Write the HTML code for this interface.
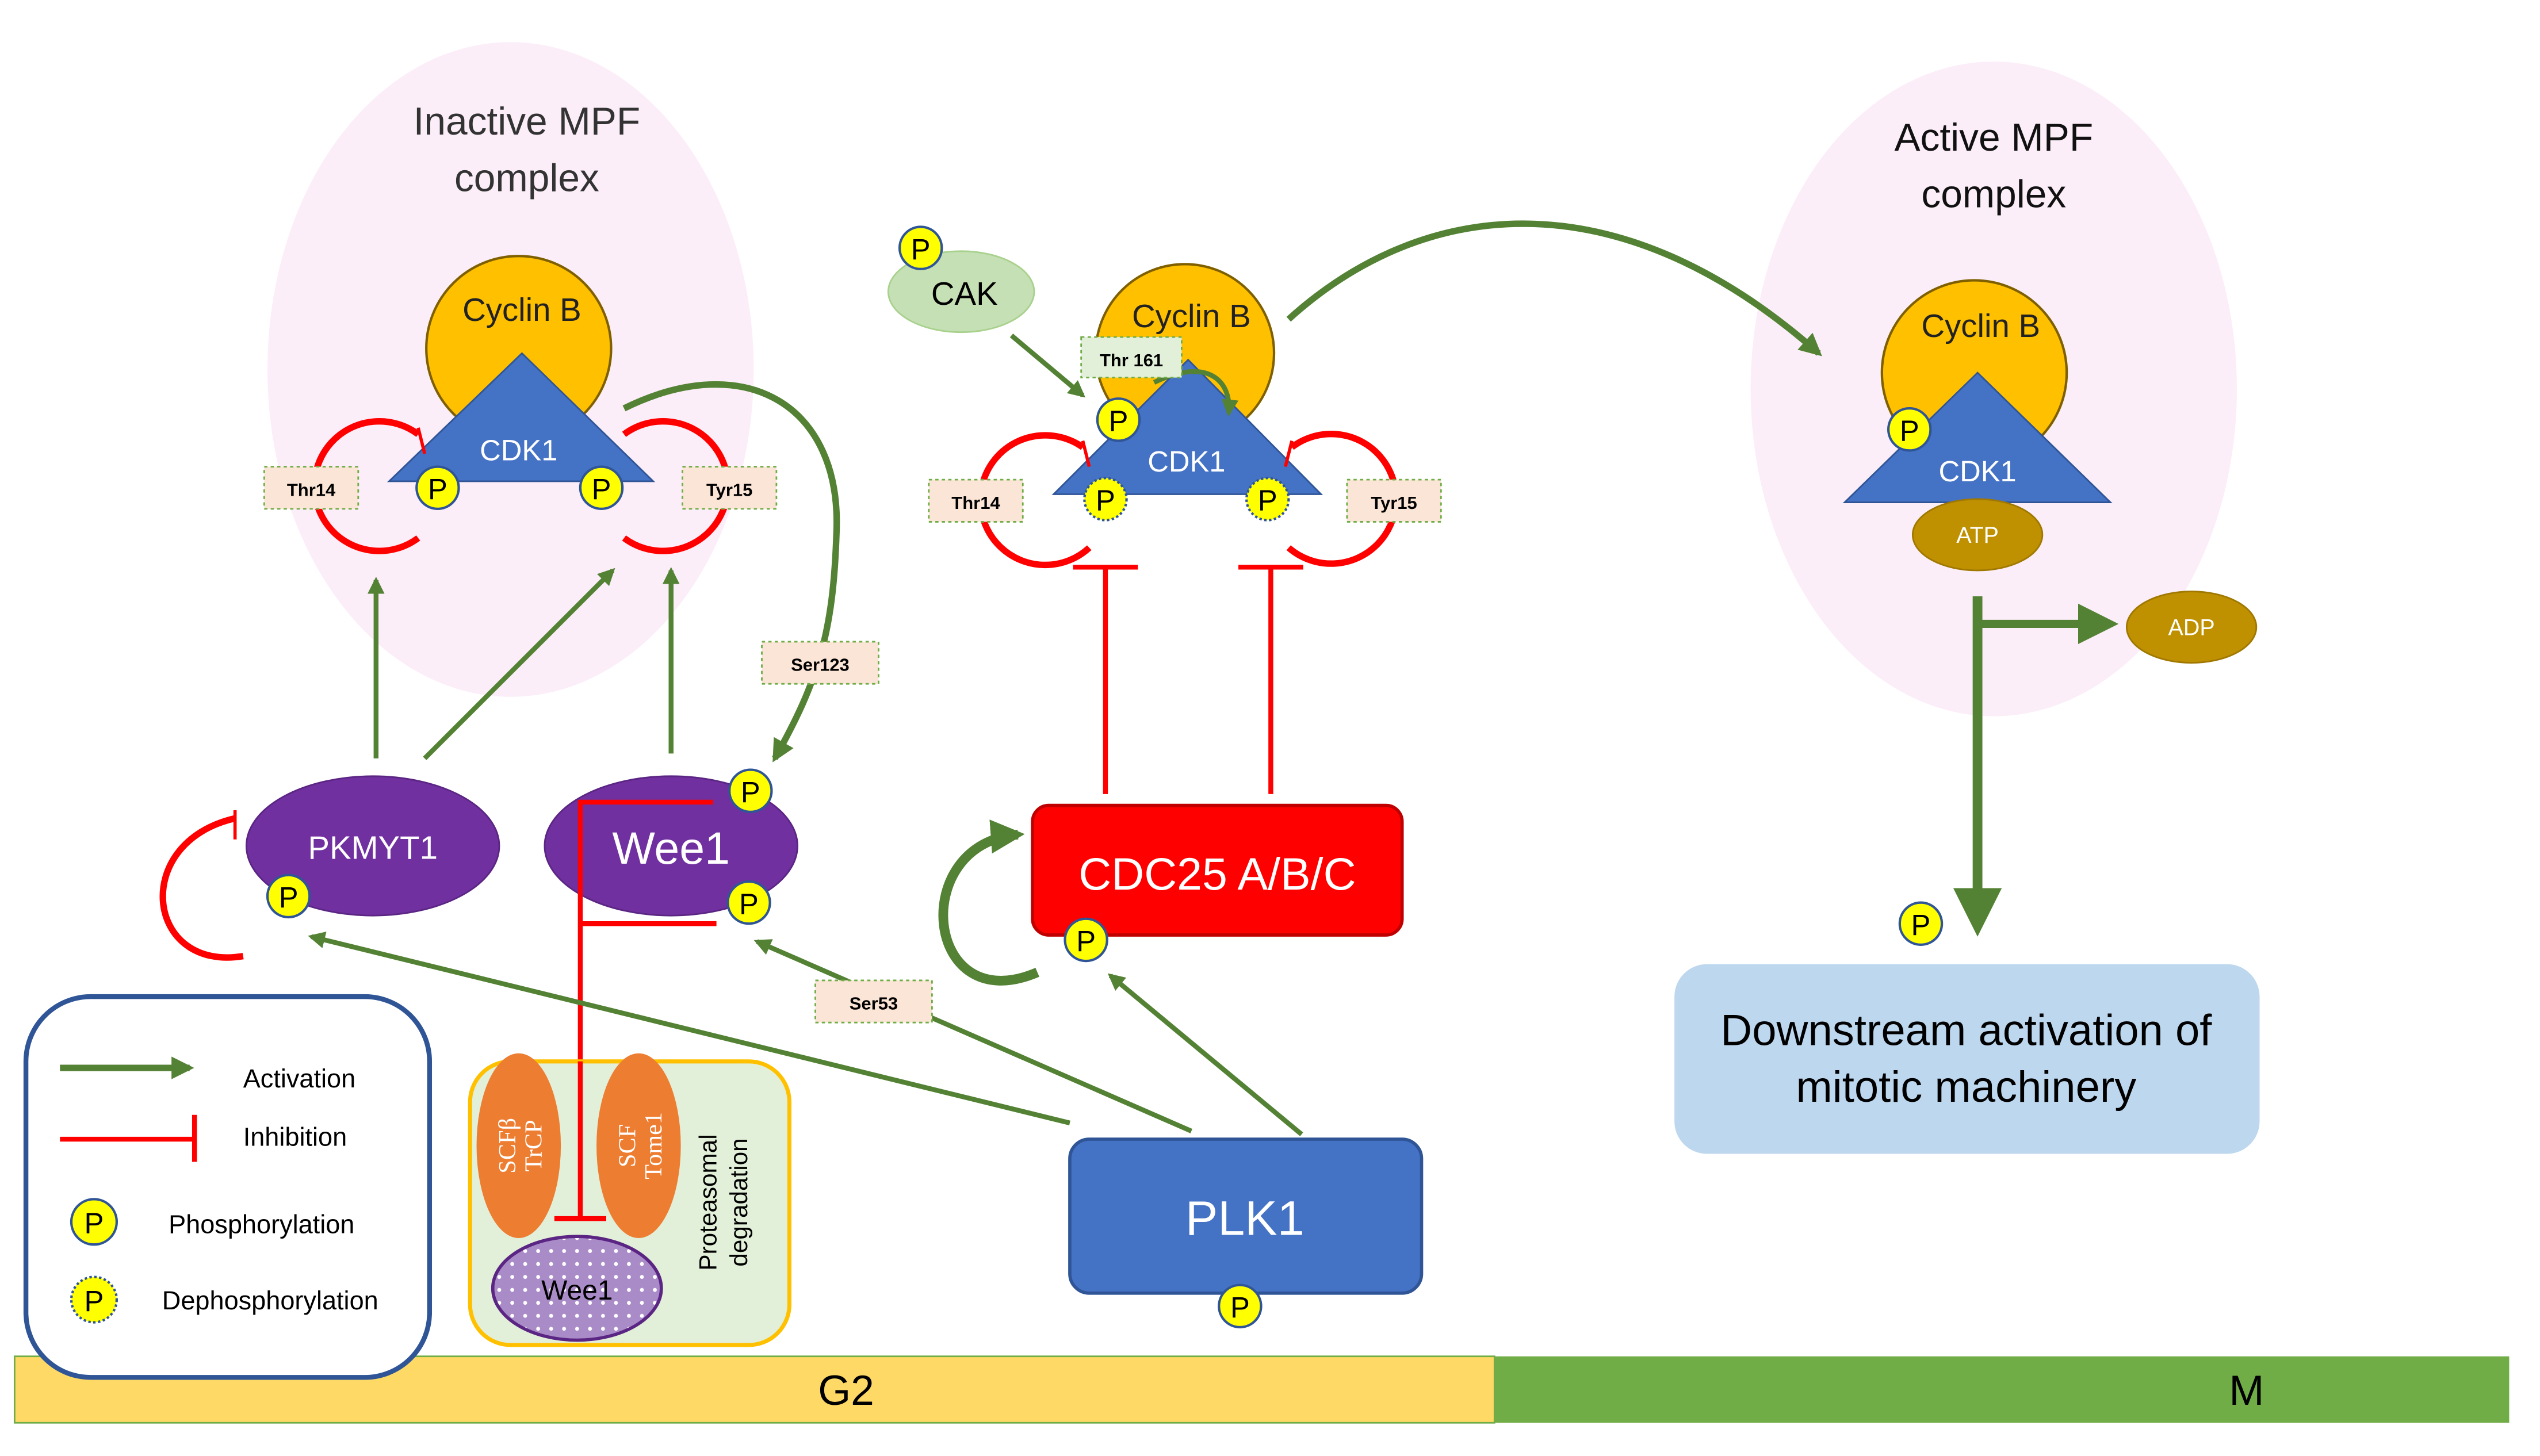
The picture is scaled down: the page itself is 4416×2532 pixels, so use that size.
<!DOCTYPE html>
<html><head><meta charset="utf-8"><style>html,body{margin:0;padding:0;background:#fff}svg{display:block}</style></head><body>
<svg width="4416" height="2532" viewBox="0 0 1567 898.5" preserveAspectRatio="none" xmlns="http://www.w3.org/2000/svg" font-family="Liberation Sans, sans-serif">
<defs>
<marker id="ga" viewBox="0 0 10 10" refX="8" refY="5" markerWidth="5" markerHeight="5" orient="auto"><path d="M0,0L10,5L0,10z" fill="#548235"/></marker>
<marker id="gb" viewBox="0 0 10 10" refX="8" refY="5" markerWidth="3.5" markerHeight="3.5" orient="auto"><path d="M0,0L10,5L0,10z" fill="#548235"/></marker>
<pattern id="dots" width="8" height="8" patternUnits="userSpaceOnUse"><rect width="8" height="8" fill="#a98bc7"/><circle cx="4" cy="4" r="1.2" fill="#fff"/></pattern>
</defs>
<ellipse cx="315" cy="228" rx="150" ry="202" fill="#fbeef8"/>
<ellipse cx="1230" cy="240" rx="150" ry="202" fill="#fbeef8"/>
<text x="325" y="83" font-size="24" text-anchor="middle" fill="#333">Inactive MPF</text>
<text x="325" y="118" font-size="24" text-anchor="middle" fill="#333">complex</text>
<text x="1230" y="93" font-size="24" text-anchor="middle" fill="#111">Active MPF</text>
<text x="1230" y="128" font-size="24" text-anchor="middle" fill="#111">complex</text>

<circle cx="320" cy="215" r="57" fill="#ffc000" stroke="#7f6000" stroke-width="1.5"/>
<text x="322" y="198" font-size="20" text-anchor="middle" fill="#222">Cyclin B</text>
<polygon points="240,297 322,218 403,297" fill="#4472c4" stroke="#2f5597"/>
<text x="320" y="284" font-size="18" text-anchor="middle" fill="#fff">CDK1</text>
<path d="M258,268 A40,40 0 1 0 258,332" fill="none" stroke="#f00" stroke-width="4"/>
<line x1="258" y1="264" x2="262" y2="280" stroke="#f00" stroke-width="2"/>
<path d="M385,268 A40,40 0 1 1 385,332" fill="none" stroke="#f00" stroke-width="4"/>
<rect x="163" y="288" width="58" height="26" fill="#fbe5d6" stroke="#70ad47" stroke-dasharray="2,2"/>
<text x="192" y="306" font-size="11" font-weight="bold" text-anchor="middle">Thr14</text>
<rect x="421" y="288" width="58" height="26" fill="#fbe5d6" stroke="#70ad47" stroke-dasharray="2,2"/>
<text x="450" y="306" font-size="11" font-weight="bold" text-anchor="middle">Tyr15</text>
<g font-size="18" text-anchor="middle">
<circle cx="270" cy="301" r="13" fill="#ff0" stroke="#2f5597" stroke-width="1.5"/><text x="270" y="308">P</text>
<circle cx="371" cy="301" r="13" fill="#ff0" stroke="#2f5597" stroke-width="1.5"/><text x="371" y="308">P</text>
</g>
<g stroke="#548235" stroke-width="3" fill="none">
<line x1="232" y1="468" x2="232" y2="358" marker-end="url(#gb)"/>
<line x1="262" y1="468" x2="378" y2="352" marker-end="url(#gb)"/>
<line x1="414" y1="465" x2="414" y2="352" marker-end="url(#gb)"/>
<path d="M385,252 C460,215 520,250 516,330 C514,390 505,420 478,468" stroke-width="4" marker-end="url(#gb)"/>
</g>
<rect x="470" y="396" width="72" height="26" fill="#fbe5d6" stroke="#70ad47" stroke-dasharray="2,2"/>
<text x="506" y="414" font-size="11" font-weight="bold" text-anchor="middle">Ser123</text>

<ellipse cx="230" cy="522" rx="78" ry="43" fill="#7030a0" stroke="#5b2583"/>
<text x="230" y="530" font-size="20" text-anchor="middle" fill="#fff">PKMYT1</text>
<ellipse cx="414" cy="522" rx="78" ry="43" fill="#7030a0" stroke="#5b2583"/>
<text x="414" y="533" font-size="28" text-anchor="middle" fill="#fff">Wee1</text>
<path d="M145,505 C80,520 90,600 150,590" fill="none" stroke="#f00" stroke-width="4"/>
<line x1="145" y1="500" x2="145" y2="518" stroke="#f00" stroke-width="2"/>
<g stroke="#f00" stroke-width="3" fill="none">
<polyline points="440,495 358,495 358,752"/>
<line x1="358" y1="570" x2="442" y2="570"/>
<line x1="342" y1="752" x2="374" y2="752"/>
</g>
<g font-size="18" text-anchor="middle">
<circle cx="178" cy="553" r="13" fill="#ff0" stroke="#2f5597" stroke-width="1.5"/><text x="178" y="560">P</text>
<circle cx="463" cy="488" r="13" fill="#ff0" stroke="#2f5597" stroke-width="1.5"/><text x="463" y="495">P</text>
<circle cx="462" cy="557" r="13" fill="#ff0" stroke="#2f5597" stroke-width="1.5"/><text x="462" y="564">P</text>
</g>

<ellipse cx="593" cy="180" rx="45" ry="25" fill="#c5e0b4" stroke="#a9d18e"/>
<text x="595" y="188" font-size="20" text-anchor="middle">CAK</text>
<circle cx="568" cy="153" r="13" fill="#ff0" stroke="#2f5597" stroke-width="1.5"/><text x="568" y="160" font-size="18" text-anchor="middle">P</text>
<line x1="624" y1="207" x2="668" y2="244" stroke="#548235" stroke-width="3" marker-end="url(#gb)"/>
<circle cx="731" cy="218" r="55" fill="#ffc000" stroke="#7f6000" stroke-width="1.5"/>
<text x="735" y="202" font-size="20" text-anchor="middle" fill="#222">Cyclin B</text>
<polygon points="650,305 733,222 815,305" fill="#4472c4" stroke="#2f5597"/>
<text x="732" y="291" font-size="18" text-anchor="middle" fill="#fff">CDK1</text>
<path d="M712,236 C745,220 760,235 758,255" fill="none" stroke="#548235" stroke-width="3" marker-end="url(#gb)"/>
<rect x="667" y="208" width="62" height="25" fill="#e2efd9" stroke="#70ad47" stroke-dasharray="2,2"/>
<text x="698" y="226" font-size="11" font-weight="bold" text-anchor="middle">Thr 161</text>
<path d="M668,276 A40,40 0 1 0 672,338" fill="none" stroke="#f00" stroke-width="4"/>
<line x1="668" y1="272" x2="672" y2="288" stroke="#f00" stroke-width="2"/>
<path d="M797,276 A40,40 0 1 1 795,338" fill="none" stroke="#f00" stroke-width="4"/>
<line x1="797" y1="272" x2="793" y2="288" stroke="#f00" stroke-width="2"/>
<rect x="573" y="296" width="58" height="26" fill="#fbe5d6" stroke="#70ad47" stroke-dasharray="2,2"/>
<text x="602" y="314" font-size="11" font-weight="bold" text-anchor="middle">Thr14</text>
<rect x="831" y="296" width="58" height="26" fill="#fbe5d6" stroke="#70ad47" stroke-dasharray="2,2"/>
<text x="860" y="314" font-size="11" font-weight="bold" text-anchor="middle">Tyr15</text>
<g font-size="18" text-anchor="middle">
<circle cx="690" cy="259" r="13" fill="#ff0" stroke="#2f5597" stroke-width="1.5"/><text x="690" y="266">P</text>
<circle cx="682" cy="308" r="13" fill="#ff0" stroke="#2f5597" stroke-width="1.5" stroke-dasharray="1.5,1.5"/><text x="682" y="315">P</text>
<circle cx="782" cy="308" r="13" fill="#ff0" stroke="#2f5597" stroke-width="1.5" stroke-dasharray="1.5,1.5"/><text x="782" y="315">P</text>
</g>
<g stroke="#f00" stroke-width="3">
<line x1="682" y1="350" x2="682" y2="490"/><line x1="662" y1="350" x2="702" y2="350"/>
<line x1="784" y1="350" x2="784" y2="490"/><line x1="764" y1="350" x2="804" y2="350"/>
</g>
<path d="M795,197 C880,120 1000,110 1122,218" fill="none" stroke="#548235" stroke-width="4" marker-end="url(#gb)"/>

<rect x="637" y="497" width="228" height="80" rx="10" fill="#f00" stroke="#c00000" stroke-width="2"/>
<text x="751" y="549" font-size="28" text-anchor="middle" fill="#fff">CDC25 A/B/C</text>
<path d="M640,600 C570,630 560,520 628,515" fill="none" stroke="#548235" stroke-width="6" marker-end="url(#gb)"/>
<circle cx="670" cy="580" r="13" fill="#ff0" stroke="#2f5597" stroke-width="1.5"/><text x="670" y="587" font-size="18" text-anchor="middle">P</text>

<rect x="660" y="703" width="217" height="95" rx="12" fill="#4472c4" stroke="#2f5597" stroke-width="2"/>
<text x="768" y="762" font-size="30" text-anchor="middle" fill="#fff">PLK1</text>
<circle cx="765" cy="806" r="13" fill="#ff0" stroke="#2f5597" stroke-width="1.5"/><text x="765" y="813" font-size="18" text-anchor="middle">P</text>
<g stroke="#548235" stroke-width="3" fill="none">
<line x1="660" y1="693" x2="192" y2="578" marker-end="url(#gb)"/>
<line x1="735" y1="698" x2="467" y2="581" marker-end="url(#gb)"/>
<line x1="803" y1="700" x2="685" y2="602" marker-end="url(#gb)"/>
</g>
<rect x="503" y="605" width="72" height="26" fill="#fbe5d6" stroke="#70ad47" stroke-dasharray="2,2"/>
<text x="539" y="623" font-size="11" font-weight="bold" text-anchor="middle">Ser53</text>

<rect x="290" y="655" width="197" height="175" rx="25" fill="#e2efd9" stroke="#ffc000" stroke-width="2.5"/>
<ellipse cx="320" cy="707" rx="26" ry="57" fill="#ed7d31"/>
<ellipse cx="394" cy="707" rx="26" ry="57" fill="#ed7d31"/>
<text transform="translate(318,707) rotate(-90)" font-family="Liberation Serif, serif" font-size="15" fill="#fff" text-anchor="middle">SCFβ</text>
<text transform="translate(334,707) rotate(-90)" font-family="Liberation Serif, serif" font-size="15" fill="#fff" text-anchor="middle">TrCP</text>
<text transform="translate(392,707) rotate(-90)" font-family="Liberation Serif, serif" font-size="15" fill="#fff" text-anchor="middle">SCF</text>
<text transform="translate(408,707) rotate(-90)" font-family="Liberation Serif, serif" font-size="15" fill="#fff" text-anchor="middle">Tome1</text>
<text transform="translate(442,742) rotate(-90)" font-size="15" text-anchor="middle">Proteasomal</text>
<text transform="translate(461,742) rotate(-90)" font-size="15" text-anchor="middle">degradation</text>
<line x1="358" y1="655" x2="358" y2="752" stroke="#f00" stroke-width="3"/>
<line x1="342" y1="752" x2="374" y2="752" stroke="#f00" stroke-width="3"/>
<ellipse cx="356" cy="795" rx="52" ry="32" fill="url(#dots)" stroke="#5b2583" stroke-width="2"/>
<text x="356" y="802" font-size="17" text-anchor="middle">Wee1</text>

<circle cx="1218" cy="230" r="57" fill="#ffc000" stroke="#7f6000" stroke-width="1.5"/>
<text x="1222" y="208" font-size="20" text-anchor="middle" fill="#222">Cyclin B</text>
<polygon points="1138,310 1220,230 1302,310" fill="#4472c4" stroke="#2f5597"/>
<text x="1220" y="297" font-size="18" text-anchor="middle" fill="#fff">CDK1</text>
<circle cx="1178" cy="265" r="13" fill="#ff0" stroke="#2f5597" stroke-width="1.5"/><text x="1178" y="272" font-size="18" text-anchor="middle">P</text>
<ellipse cx="1220" cy="330" rx="40" ry="22" fill="#bf9000" stroke="#a07800"/>
<text x="1220" y="335" font-size="14" text-anchor="middle" fill="#fff">ATP</text>
<ellipse cx="1352" cy="387" rx="40" ry="22" fill="#bf9000" stroke="#a07800"/>
<text x="1352" y="392" font-size="14" text-anchor="middle" fill="#fff">ADP</text>
<line x1="1220" y1="368" x2="1220" y2="572" stroke="#548235" stroke-width="6" marker-end="url(#ga)"/>
<line x1="1220" y1="385" x2="1302" y2="385" stroke="#548235" stroke-width="5" marker-end="url(#ga)"/>
<circle cx="1185" cy="570" r="13" fill="#ff0" stroke="#2f5597" stroke-width="1.5"/><text x="1185" y="577" font-size="18" text-anchor="middle">P</text>
<rect x="1033" y="595" width="361" height="117" rx="20" fill="#bdd7ee"/>
<text x="1213" y="645" font-size="27" text-anchor="middle">Downstream activation of</text>
<text x="1213" y="680" font-size="27" text-anchor="middle">mitotic machinery</text>

<rect x="9" y="837" width="913" height="41" fill="#ffd966" stroke="#70ad47"/>
<rect x="922" y="837" width="626" height="41" fill="#70ad47"/>
<text x="522" y="867" font-size="26" text-anchor="middle">G2</text>
<text x="1386" y="867" font-size="26" text-anchor="middle">M</text>

<rect x="16" y="615" width="249" height="235" rx="40" fill="#fff" stroke="#2f5597" stroke-width="3"/>
<line x1="37" y1="659" x2="117" y2="659" stroke="#548235" stroke-width="4" marker-end="url(#gb)"/>
<text x="150" y="671" font-size="16">Activation</text>
<line x1="37" y1="703" x2="120" y2="703" stroke="#f00" stroke-width="3"/>
<line x1="120" y1="688" x2="120" y2="717" stroke="#f00" stroke-width="3"/>
<text x="150" y="707" font-size="16">Inhibition</text>
<circle cx="58" cy="754" r="14" fill="#ff0" stroke="#2f5597" stroke-width="1.5"/><text x="58" y="761" font-size="18" text-anchor="middle">P</text>
<text x="104" y="761" font-size="16">Phosphorylation</text>
<circle cx="58" cy="802" r="14" fill="#ff0" stroke="#2f5597" stroke-width="1.5" stroke-dasharray="1.5,1.5"/><text x="58" y="809" font-size="18" text-anchor="middle">P</text>
<text x="100" y="808" font-size="16">Dephosphorylation</text>
</svg>
</body></html>
